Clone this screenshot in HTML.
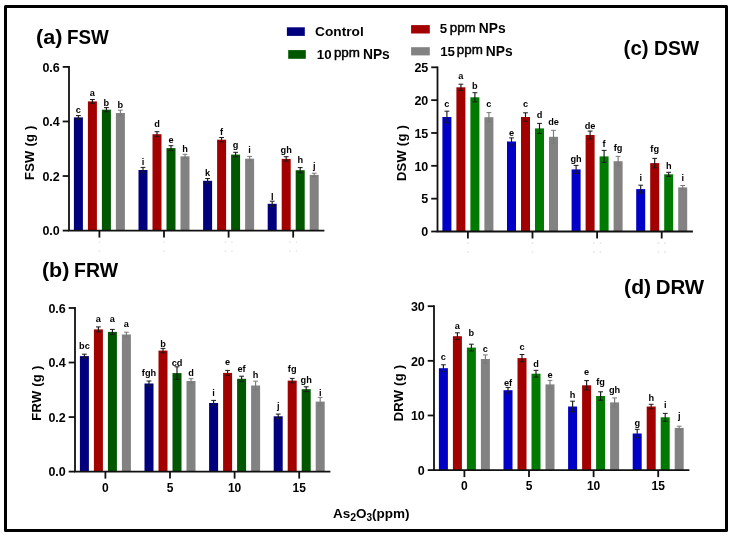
<!DOCTYPE html>
<html><head><meta charset="utf-8"><style>
html,body{margin:0;padding:0;background:#fff;width:734px;height:538px;overflow:hidden;}
svg{display:block;will-change:transform;}
text{font-family:"Liberation Sans", sans-serif;}
</style></head><body>
<svg width="734" height="538" viewBox="0 0 734 538">
<rect x="73.90" y="117.40" width="9.00" height="113.20" fill="#00007f"/>
<path d="M78.40 115.60V119.20" stroke="#1a1a1a" stroke-width="1.15" fill="none"/>
<path d="M76.00 115.60H80.80M76.00 119.20H80.80" stroke="#1a1a1a" stroke-width="1.0" fill="none"/>
<text x="78.40" y="113.40" font-size="9.2" font-weight="bold" text-anchor="middle" fill="#000">c</text>
<rect x="87.90" y="101.40" width="9.00" height="129.20" fill="#a30000"/>
<path d="M92.40 99.50V103.30" stroke="#1a1a1a" stroke-width="1.15" fill="none"/>
<path d="M90.00 99.50H94.80M90.00 103.30H94.80" stroke="#1a1a1a" stroke-width="1.0" fill="none"/>
<text x="92.40" y="95.70" font-size="9.2" font-weight="bold" text-anchor="middle" fill="#000">a</text>
<rect x="101.90" y="109.70" width="9.00" height="120.90" fill="#005700"/>
<path d="M106.40 107.60V111.80" stroke="#1a1a1a" stroke-width="1.15" fill="none"/>
<path d="M104.00 107.60H108.80M104.00 111.80H108.80" stroke="#1a1a1a" stroke-width="1.0" fill="none"/>
<text x="106.40" y="105.70" font-size="9.2" font-weight="bold" text-anchor="middle" fill="#000">b</text>
<rect x="115.90" y="113.00" width="9.00" height="117.60" fill="#828282"/>
<path d="M120.40 110.20V115.80" stroke="#7a7a7a" stroke-width="1.15" fill="none"/>
<path d="M118.00 110.20H122.80M118.00 115.80H122.80" stroke="#7a7a7a" stroke-width="1.0" fill="none"/>
<text x="120.40" y="108.00" font-size="9.2" font-weight="bold" text-anchor="middle" fill="#000">b</text>
<rect x="138.50" y="170.00" width="9.00" height="60.60" fill="#00007f"/>
<path d="M143.00 167.40V172.60" stroke="#1a1a1a" stroke-width="1.15" fill="none"/>
<path d="M140.60 167.40H145.40M140.60 172.60H145.40" stroke="#1a1a1a" stroke-width="1.0" fill="none"/>
<text x="143.00" y="164.50" font-size="9.2" font-weight="bold" text-anchor="middle" fill="#000">i</text>
<rect x="152.50" y="134.20" width="9.00" height="96.40" fill="#a30000"/>
<path d="M157.00 131.70V136.70" stroke="#1a1a1a" stroke-width="1.15" fill="none"/>
<path d="M154.60 131.70H159.40M154.60 136.70H159.40" stroke="#1a1a1a" stroke-width="1.0" fill="none"/>
<text x="157.00" y="127.40" font-size="9.2" font-weight="bold" text-anchor="middle" fill="#000">d</text>
<rect x="166.50" y="148.10" width="9.00" height="82.50" fill="#005700"/>
<path d="M171.00 145.70V150.50" stroke="#1a1a1a" stroke-width="1.15" fill="none"/>
<path d="M168.60 145.70H173.40M168.60 150.50H173.40" stroke="#1a1a1a" stroke-width="1.0" fill="none"/>
<text x="171.00" y="142.70" font-size="9.2" font-weight="bold" text-anchor="middle" fill="#000">e</text>
<rect x="180.50" y="156.30" width="9.00" height="74.30" fill="#828282"/>
<path d="M185.00 154.30V158.30" stroke="#7a7a7a" stroke-width="1.15" fill="none"/>
<path d="M182.60 154.30H187.40M182.60 158.30H187.40" stroke="#7a7a7a" stroke-width="1.0" fill="none"/>
<text x="185.00" y="152.40" font-size="9.2" font-weight="bold" text-anchor="middle" fill="#000">h</text>
<rect x="203.10" y="180.80" width="9.00" height="49.80" fill="#00007f"/>
<path d="M207.60 178.50V183.10" stroke="#1a1a1a" stroke-width="1.15" fill="none"/>
<path d="M205.20 178.50H210.00M205.20 183.10H210.00" stroke="#1a1a1a" stroke-width="1.0" fill="none"/>
<text x="207.60" y="175.60" font-size="9.2" font-weight="bold" text-anchor="middle" fill="#000">k</text>
<rect x="217.10" y="139.70" width="9.00" height="90.90" fill="#a30000"/>
<path d="M221.60 137.50V141.90" stroke="#1a1a1a" stroke-width="1.15" fill="none"/>
<path d="M219.20 137.50H224.00M219.20 141.90H224.00" stroke="#1a1a1a" stroke-width="1.0" fill="none"/>
<text x="221.60" y="135.40" font-size="9.2" font-weight="bold" text-anchor="middle" fill="#000">f</text>
<rect x="231.10" y="154.60" width="9.00" height="76.00" fill="#005700"/>
<path d="M235.60 152.30V156.90" stroke="#1a1a1a" stroke-width="1.15" fill="none"/>
<path d="M233.20 152.30H238.00M233.20 156.90H238.00" stroke="#1a1a1a" stroke-width="1.0" fill="none"/>
<text x="235.60" y="147.90" font-size="9.2" font-weight="bold" text-anchor="middle" fill="#000">g</text>
<rect x="245.10" y="158.70" width="9.00" height="71.90" fill="#828282"/>
<path d="M249.60 156.40V161.00" stroke="#7a7a7a" stroke-width="1.15" fill="none"/>
<path d="M247.20 156.40H252.00M247.20 161.00H252.00" stroke="#7a7a7a" stroke-width="1.0" fill="none"/>
<text x="249.60" y="153.30" font-size="9.2" font-weight="bold" text-anchor="middle" fill="#000">i</text>
<rect x="267.70" y="203.80" width="9.00" height="26.80" fill="#00007f"/>
<path d="M272.20 201.20V206.40" stroke="#1a1a1a" stroke-width="1.15" fill="none"/>
<path d="M269.80 201.20H274.60M269.80 206.40H274.60" stroke="#1a1a1a" stroke-width="1.0" fill="none"/>
<text x="272.20" y="199.60" font-size="9.2" font-weight="bold" text-anchor="middle" fill="#000">l</text>
<rect x="281.70" y="158.90" width="9.00" height="71.70" fill="#a30000"/>
<path d="M286.20 156.70V161.10" stroke="#1a1a1a" stroke-width="1.15" fill="none"/>
<path d="M283.80 156.70H288.60M283.80 161.10H288.60" stroke="#1a1a1a" stroke-width="1.0" fill="none"/>
<text x="286.20" y="152.80" font-size="9.2" font-weight="bold" text-anchor="middle" fill="#000">gh</text>
<rect x="295.70" y="170.20" width="9.00" height="60.40" fill="#005700"/>
<path d="M300.20 167.60V172.80" stroke="#1a1a1a" stroke-width="1.15" fill="none"/>
<path d="M297.80 167.60H302.60M297.80 172.80H302.60" stroke="#1a1a1a" stroke-width="1.0" fill="none"/>
<text x="300.20" y="163.20" font-size="9.2" font-weight="bold" text-anchor="middle" fill="#000">h</text>
<rect x="309.70" y="174.90" width="9.00" height="55.70" fill="#828282"/>
<path d="M314.20 173.20V176.60" stroke="#7a7a7a" stroke-width="1.15" fill="none"/>
<path d="M311.80 173.20H316.60M311.80 176.60H316.60" stroke="#7a7a7a" stroke-width="1.0" fill="none"/>
<text x="314.20" y="168.90" font-size="9.2" font-weight="bold" text-anchor="middle" fill="#000">j</text>
<path d="M69.00 66.90V230.60H323.50" stroke="#111" stroke-width="1.8" fill="none" stroke-linecap="square"/>
<path d="M62.70 230.60H69.00" stroke="#111" stroke-width="1.8"/>
<text x="59.80" y="235.40" font-size="12.5" font-weight="bold" text-anchor="end" fill="#000">0.0</text>
<path d="M62.70 176.03H69.00" stroke="#111" stroke-width="1.8"/>
<text x="59.80" y="180.83" font-size="12.5" font-weight="bold" text-anchor="end" fill="#000">0.2</text>
<path d="M62.70 121.47H69.00" stroke="#111" stroke-width="1.8"/>
<text x="59.80" y="126.27" font-size="12.5" font-weight="bold" text-anchor="end" fill="#000">0.4</text>
<path d="M62.70 66.90H69.00" stroke="#111" stroke-width="1.8"/>
<text x="59.80" y="71.70" font-size="12.5" font-weight="bold" text-anchor="end" fill="#000">0.6</text>
<path d="M99.40 230.60V237.60" stroke="#111" stroke-width="1.8"/>
<path d="M164.00 230.60V237.60" stroke="#111" stroke-width="1.8"/>
<path d="M228.60 230.60V237.60" stroke="#111" stroke-width="1.8"/>
<path d="M293.20 230.60V237.60" stroke="#111" stroke-width="1.8"/>
<ellipse cx="99.40" cy="242.10" rx="1.1" ry="0.7" fill="#e0e0e0"/>
<ellipse cx="99.40" cy="251.10" rx="1.1" ry="0.7" fill="#e0e0e0"/>
<ellipse cx="164.00" cy="242.10" rx="1.1" ry="0.7" fill="#e0e0e0"/>
<ellipse cx="164.00" cy="251.10" rx="1.1" ry="0.7" fill="#e0e0e0"/>
<ellipse cx="225.30" cy="242.10" rx="1.1" ry="0.7" fill="#e0e0e0"/>
<ellipse cx="231.90" cy="242.10" rx="1.1" ry="0.7" fill="#e0e0e0"/>
<ellipse cx="225.30" cy="251.10" rx="1.1" ry="0.7" fill="#e0e0e0"/>
<ellipse cx="231.90" cy="251.10" rx="1.1" ry="0.7" fill="#e0e0e0"/>
<ellipse cx="289.90" cy="242.10" rx="1.1" ry="0.7" fill="#e0e0e0"/>
<ellipse cx="296.50" cy="242.10" rx="1.1" ry="0.7" fill="#e0e0e0"/>
<ellipse cx="289.90" cy="251.10" rx="1.1" ry="0.7" fill="#e0e0e0"/>
<ellipse cx="296.50" cy="251.10" rx="1.1" ry="0.7" fill="#e0e0e0"/>
<text transform="translate(34.00 152.70) rotate(-90)" font-size="13" font-weight="bold" text-anchor="middle" fill="#000" letter-spacing="0.25">FSW (g )</text>
<rect x="79.90" y="356.10" width="9.00" height="115.50" fill="#00007f"/>
<path d="M84.40 354.20V358.00" stroke="#1a1a1a" stroke-width="1.15" fill="none"/>
<path d="M82.00 354.20H86.80M82.00 358.00H86.80" stroke="#1a1a1a" stroke-width="1.0" fill="none"/>
<text x="84.40" y="349.00" font-size="9.2" font-weight="bold" text-anchor="middle" fill="#000">bc</text>
<rect x="93.90" y="329.40" width="9.00" height="142.20" fill="#a30000"/>
<path d="M98.40 326.90V331.90" stroke="#1a1a1a" stroke-width="1.15" fill="none"/>
<path d="M96.00 326.90H100.80M96.00 331.90H100.80" stroke="#1a1a1a" stroke-width="1.0" fill="none"/>
<text x="98.40" y="322.10" font-size="9.2" font-weight="bold" text-anchor="middle" fill="#000">a</text>
<rect x="107.90" y="331.90" width="9.00" height="139.70" fill="#005700"/>
<path d="M112.40 329.40V334.40" stroke="#1a1a1a" stroke-width="1.15" fill="none"/>
<path d="M110.00 329.40H114.80M110.00 334.40H114.80" stroke="#1a1a1a" stroke-width="1.0" fill="none"/>
<text x="112.40" y="322.10" font-size="9.2" font-weight="bold" text-anchor="middle" fill="#000">a</text>
<rect x="121.90" y="334.50" width="9.00" height="137.10" fill="#828282"/>
<path d="M126.40 332.20V336.80" stroke="#7a7a7a" stroke-width="1.15" fill="none"/>
<path d="M124.00 332.20H128.80M124.00 336.80H128.80" stroke="#7a7a7a" stroke-width="1.0" fill="none"/>
<text x="126.40" y="327.00" font-size="9.2" font-weight="bold" text-anchor="middle" fill="#000">a</text>
<rect x="144.50" y="383.50" width="9.00" height="88.10" fill="#00007f"/>
<path d="M149.00 381.00V386.00" stroke="#1a1a1a" stroke-width="1.15" fill="none"/>
<path d="M146.60 381.00H151.40M146.60 386.00H151.40" stroke="#1a1a1a" stroke-width="1.0" fill="none"/>
<text x="149.00" y="376.40" font-size="9.2" font-weight="bold" text-anchor="middle" fill="#000">fgh</text>
<rect x="158.50" y="350.60" width="9.00" height="121.00" fill="#a30000"/>
<path d="M163.00 348.40V352.80" stroke="#1a1a1a" stroke-width="1.15" fill="none"/>
<path d="M160.60 348.40H165.40M160.60 352.80H165.40" stroke="#1a1a1a" stroke-width="1.0" fill="none"/>
<text x="163.00" y="347.10" font-size="9.2" font-weight="bold" text-anchor="middle" fill="#000">b</text>
<rect x="172.50" y="373.10" width="9.00" height="98.50" fill="#005700"/>
<path d="M177.00 366.80V379.40" stroke="#1a1a1a" stroke-width="1.15" fill="none"/>
<path d="M174.60 366.80H179.40M174.60 379.40H179.40" stroke="#1a1a1a" stroke-width="1.0" fill="none"/>
<text x="177.00" y="365.50" font-size="9.2" font-weight="bold" text-anchor="middle" fill="#000">cd</text>
<rect x="186.50" y="381.00" width="9.00" height="90.60" fill="#828282"/>
<path d="M191.00 378.70V383.30" stroke="#7a7a7a" stroke-width="1.15" fill="none"/>
<path d="M188.60 378.70H193.40M188.60 383.30H193.40" stroke="#7a7a7a" stroke-width="1.0" fill="none"/>
<text x="191.00" y="376.10" font-size="9.2" font-weight="bold" text-anchor="middle" fill="#000">d</text>
<rect x="209.10" y="403.00" width="9.00" height="68.60" fill="#00007f"/>
<path d="M213.60 400.40V405.60" stroke="#1a1a1a" stroke-width="1.15" fill="none"/>
<path d="M211.20 400.40H216.00M211.20 405.60H216.00" stroke="#1a1a1a" stroke-width="1.0" fill="none"/>
<text x="213.60" y="395.60" font-size="9.2" font-weight="bold" text-anchor="middle" fill="#000">i</text>
<rect x="223.10" y="372.90" width="9.00" height="98.70" fill="#a30000"/>
<path d="M227.60 370.40V375.40" stroke="#1a1a1a" stroke-width="1.15" fill="none"/>
<path d="M225.20 370.40H230.00M225.20 375.40H230.00" stroke="#1a1a1a" stroke-width="1.0" fill="none"/>
<text x="227.60" y="365.10" font-size="9.2" font-weight="bold" text-anchor="middle" fill="#000">e</text>
<rect x="237.10" y="378.80" width="9.00" height="92.80" fill="#005700"/>
<path d="M241.60 376.20V381.40" stroke="#1a1a1a" stroke-width="1.15" fill="none"/>
<path d="M239.20 376.20H244.00M239.20 381.40H244.00" stroke="#1a1a1a" stroke-width="1.0" fill="none"/>
<text x="241.60" y="371.80" font-size="9.2" font-weight="bold" text-anchor="middle" fill="#000">ef</text>
<rect x="251.10" y="385.50" width="9.00" height="86.10" fill="#828282"/>
<path d="M255.60 381.20V389.80" stroke="#7a7a7a" stroke-width="1.15" fill="none"/>
<path d="M253.20 381.20H258.00M253.20 389.80H258.00" stroke="#7a7a7a" stroke-width="1.0" fill="none"/>
<text x="255.60" y="377.70" font-size="9.2" font-weight="bold" text-anchor="middle" fill="#000">h</text>
<rect x="273.70" y="416.30" width="9.00" height="55.30" fill="#00007f"/>
<path d="M278.20 414.10V418.50" stroke="#1a1a1a" stroke-width="1.15" fill="none"/>
<path d="M275.80 414.10H280.60M275.80 418.50H280.60" stroke="#1a1a1a" stroke-width="1.0" fill="none"/>
<text x="278.20" y="409.40" font-size="9.2" font-weight="bold" text-anchor="middle" fill="#000">j</text>
<rect x="287.70" y="380.60" width="9.00" height="91.00" fill="#a30000"/>
<path d="M292.20 378.40V382.80" stroke="#1a1a1a" stroke-width="1.15" fill="none"/>
<path d="M289.80 378.40H294.60M289.80 382.80H294.60" stroke="#1a1a1a" stroke-width="1.0" fill="none"/>
<text x="292.20" y="371.60" font-size="9.2" font-weight="bold" text-anchor="middle" fill="#000">fg</text>
<rect x="301.70" y="389.20" width="9.00" height="82.40" fill="#005700"/>
<path d="M306.20 386.80V391.60" stroke="#1a1a1a" stroke-width="1.15" fill="none"/>
<path d="M303.80 386.80H308.60M303.80 391.60H308.60" stroke="#1a1a1a" stroke-width="1.0" fill="none"/>
<text x="306.20" y="383.30" font-size="9.2" font-weight="bold" text-anchor="middle" fill="#000">gh</text>
<rect x="315.70" y="401.60" width="9.00" height="70.00" fill="#828282"/>
<path d="M320.20 397.40V405.80" stroke="#7a7a7a" stroke-width="1.15" fill="none"/>
<path d="M317.80 397.40H322.60M317.80 405.80H322.60" stroke="#7a7a7a" stroke-width="1.0" fill="none"/>
<text x="320.20" y="395.90" font-size="9.2" font-weight="bold" text-anchor="middle" fill="#000">i</text>
<path d="M75.00 308.00V471.60H329.50" stroke="#111" stroke-width="1.8" fill="none" stroke-linecap="square"/>
<path d="M68.70 471.60H75.00" stroke="#111" stroke-width="1.8"/>
<text x="65.80" y="476.40" font-size="12.5" font-weight="bold" text-anchor="end" fill="#000">0.0</text>
<path d="M68.70 417.07H75.00" stroke="#111" stroke-width="1.8"/>
<text x="65.80" y="421.87" font-size="12.5" font-weight="bold" text-anchor="end" fill="#000">0.2</text>
<path d="M68.70 362.53H75.00" stroke="#111" stroke-width="1.8"/>
<text x="65.80" y="367.33" font-size="12.5" font-weight="bold" text-anchor="end" fill="#000">0.4</text>
<path d="M68.70 308.00H75.00" stroke="#111" stroke-width="1.8"/>
<text x="65.80" y="312.80" font-size="12.5" font-weight="bold" text-anchor="end" fill="#000">0.6</text>
<path d="M105.40 471.60V478.60" stroke="#111" stroke-width="1.8"/>
<text x="105.40" y="491.90" font-size="12" font-weight="bold" text-anchor="middle" fill="#000">0</text>
<path d="M170.00 471.60V478.60" stroke="#111" stroke-width="1.8"/>
<text x="170.00" y="491.90" font-size="12" font-weight="bold" text-anchor="middle" fill="#000">5</text>
<path d="M234.60 471.60V478.60" stroke="#111" stroke-width="1.8"/>
<text x="234.60" y="491.90" font-size="12" font-weight="bold" text-anchor="middle" fill="#000">10</text>
<path d="M299.20 471.60V478.60" stroke="#111" stroke-width="1.8"/>
<text x="299.20" y="491.90" font-size="12" font-weight="bold" text-anchor="middle" fill="#000">15</text>
<text transform="translate(40.80 393.10) rotate(-90)" font-size="13" font-weight="bold" text-anchor="middle" fill="#000" letter-spacing="0.25">FRW (g )</text>
<rect x="442.40" y="117.00" width="9.00" height="114.50" fill="#0000c6"/>
<path d="M446.90 111.20V122.80" stroke="#1a1a1a" stroke-width="1.15" fill="none"/>
<path d="M444.50 111.20H449.30M444.50 122.80H449.30" stroke="#1a1a1a" stroke-width="1.0" fill="none"/>
<text x="446.90" y="107.00" font-size="9.2" font-weight="bold" text-anchor="middle" fill="#000">c</text>
<rect x="456.40" y="87.30" width="9.00" height="144.20" fill="#a30000"/>
<path d="M460.90 84.20V90.40" stroke="#1a1a1a" stroke-width="1.15" fill="none"/>
<path d="M458.50 84.20H463.30M458.50 90.40H463.30" stroke="#1a1a1a" stroke-width="1.0" fill="none"/>
<text x="460.90" y="78.50" font-size="9.2" font-weight="bold" text-anchor="middle" fill="#000">a</text>
<rect x="470.40" y="97.30" width="9.00" height="134.20" fill="#007a00"/>
<path d="M474.90 92.70V101.90" stroke="#1a1a1a" stroke-width="1.15" fill="none"/>
<path d="M472.50 92.70H477.30M472.50 101.90H477.30" stroke="#1a1a1a" stroke-width="1.0" fill="none"/>
<text x="474.90" y="89.10" font-size="9.2" font-weight="bold" text-anchor="middle" fill="#000">b</text>
<rect x="484.40" y="117.20" width="9.00" height="114.30" fill="#828282"/>
<path d="M488.90 112.60V121.80" stroke="#7a7a7a" stroke-width="1.15" fill="none"/>
<path d="M486.50 112.60H491.30M486.50 121.80H491.30" stroke="#7a7a7a" stroke-width="1.0" fill="none"/>
<text x="488.90" y="107.40" font-size="9.2" font-weight="bold" text-anchor="middle" fill="#000">c</text>
<rect x="507.00" y="141.50" width="9.00" height="90.00" fill="#0000c6"/>
<path d="M511.50 137.90V145.10" stroke="#1a1a1a" stroke-width="1.15" fill="none"/>
<path d="M509.10 137.90H513.90M509.10 145.10H513.90" stroke="#1a1a1a" stroke-width="1.0" fill="none"/>
<text x="511.50" y="136.10" font-size="9.2" font-weight="bold" text-anchor="middle" fill="#000">e</text>
<rect x="521.00" y="117.00" width="9.00" height="114.50" fill="#a30000"/>
<path d="M525.50 112.80V121.20" stroke="#1a1a1a" stroke-width="1.15" fill="none"/>
<path d="M523.10 112.80H527.90M523.10 121.20H527.90" stroke="#1a1a1a" stroke-width="1.0" fill="none"/>
<text x="525.50" y="107.30" font-size="9.2" font-weight="bold" text-anchor="middle" fill="#000">c</text>
<rect x="535.00" y="128.40" width="9.00" height="103.10" fill="#007a00"/>
<path d="M539.50 123.40V133.40" stroke="#1a1a1a" stroke-width="1.15" fill="none"/>
<path d="M537.10 123.40H541.90M537.10 133.40H541.90" stroke="#1a1a1a" stroke-width="1.0" fill="none"/>
<text x="539.50" y="118.00" font-size="9.2" font-weight="bold" text-anchor="middle" fill="#000">d</text>
<rect x="549.00" y="136.80" width="9.00" height="94.70" fill="#828282"/>
<path d="M553.50 130.30V143.30" stroke="#7a7a7a" stroke-width="1.15" fill="none"/>
<path d="M551.10 130.30H555.90M551.10 143.30H555.90" stroke="#7a7a7a" stroke-width="1.0" fill="none"/>
<text x="553.50" y="125.20" font-size="9.2" font-weight="bold" text-anchor="middle" fill="#000">de</text>
<rect x="571.60" y="169.40" width="9.00" height="62.10" fill="#0000c6"/>
<path d="M576.10 165.40V173.40" stroke="#1a1a1a" stroke-width="1.15" fill="none"/>
<path d="M573.70 165.40H578.50M573.70 173.40H578.50" stroke="#1a1a1a" stroke-width="1.0" fill="none"/>
<text x="576.10" y="162.20" font-size="9.2" font-weight="bold" text-anchor="middle" fill="#000">gh</text>
<rect x="585.60" y="135.00" width="9.00" height="96.50" fill="#a30000"/>
<path d="M590.10 131.10V138.90" stroke="#1a1a1a" stroke-width="1.15" fill="none"/>
<path d="M587.70 131.10H592.50M587.70 138.90H592.50" stroke="#1a1a1a" stroke-width="1.0" fill="none"/>
<text x="590.10" y="128.70" font-size="9.2" font-weight="bold" text-anchor="middle" fill="#000">de</text>
<rect x="599.60" y="156.40" width="9.00" height="75.10" fill="#007a00"/>
<path d="M604.10 150.40V162.40" stroke="#1a1a1a" stroke-width="1.15" fill="none"/>
<path d="M601.70 150.40H606.50M601.70 162.40H606.50" stroke="#1a1a1a" stroke-width="1.0" fill="none"/>
<text x="604.10" y="147.10" font-size="9.2" font-weight="bold" text-anchor="middle" fill="#000">f</text>
<rect x="613.60" y="161.20" width="9.00" height="70.30" fill="#828282"/>
<path d="M618.10 156.40V166.00" stroke="#7a7a7a" stroke-width="1.15" fill="none"/>
<path d="M615.70 156.40H620.50M615.70 166.00H620.50" stroke="#7a7a7a" stroke-width="1.0" fill="none"/>
<text x="618.10" y="151.00" font-size="9.2" font-weight="bold" text-anchor="middle" fill="#000">fg</text>
<rect x="636.20" y="189.10" width="9.00" height="42.40" fill="#0000c6"/>
<path d="M640.70 185.20V193.00" stroke="#1a1a1a" stroke-width="1.15" fill="none"/>
<path d="M638.30 185.20H643.10M638.30 193.00H643.10" stroke="#1a1a1a" stroke-width="1.0" fill="none"/>
<text x="640.70" y="180.50" font-size="9.2" font-weight="bold" text-anchor="middle" fill="#000">i</text>
<rect x="650.20" y="163.10" width="9.00" height="68.40" fill="#a30000"/>
<path d="M654.70 158.40V167.80" stroke="#1a1a1a" stroke-width="1.15" fill="none"/>
<path d="M652.30 158.40H657.10M652.30 167.80H657.10" stroke="#1a1a1a" stroke-width="1.0" fill="none"/>
<text x="654.70" y="151.60" font-size="9.2" font-weight="bold" text-anchor="middle" fill="#000">fg</text>
<rect x="664.20" y="174.30" width="9.00" height="57.20" fill="#007a00"/>
<path d="M668.70 172.30V176.30" stroke="#1a1a1a" stroke-width="1.15" fill="none"/>
<path d="M666.30 172.30H671.10M666.30 176.30H671.10" stroke="#1a1a1a" stroke-width="1.0" fill="none"/>
<text x="668.70" y="169.40" font-size="9.2" font-weight="bold" text-anchor="middle" fill="#000">h</text>
<rect x="678.20" y="187.40" width="9.00" height="44.10" fill="#828282"/>
<path d="M682.70 185.50V189.30" stroke="#7a7a7a" stroke-width="1.15" fill="none"/>
<path d="M680.30 185.50H685.10M680.30 189.30H685.10" stroke="#7a7a7a" stroke-width="1.0" fill="none"/>
<text x="682.70" y="180.50" font-size="9.2" font-weight="bold" text-anchor="middle" fill="#000">i</text>
<path d="M437.50 67.30V231.50H692.00" stroke="#111" stroke-width="1.8" fill="none" stroke-linecap="square"/>
<path d="M431.20 231.50H437.50" stroke="#111" stroke-width="1.8"/>
<text x="428.30" y="236.30" font-size="12.5" font-weight="bold" text-anchor="end" fill="#000">0</text>
<path d="M431.20 198.66H437.50" stroke="#111" stroke-width="1.8"/>
<text x="428.30" y="203.46" font-size="12.5" font-weight="bold" text-anchor="end" fill="#000">5</text>
<path d="M431.20 165.82H437.50" stroke="#111" stroke-width="1.8"/>
<text x="428.30" y="170.62" font-size="12.5" font-weight="bold" text-anchor="end" fill="#000">10</text>
<path d="M431.20 132.98H437.50" stroke="#111" stroke-width="1.8"/>
<text x="428.30" y="137.78" font-size="12.5" font-weight="bold" text-anchor="end" fill="#000">15</text>
<path d="M431.20 100.14H437.50" stroke="#111" stroke-width="1.8"/>
<text x="428.30" y="104.94" font-size="12.5" font-weight="bold" text-anchor="end" fill="#000">20</text>
<path d="M431.20 67.30H437.50" stroke="#111" stroke-width="1.8"/>
<text x="428.30" y="72.10" font-size="12.5" font-weight="bold" text-anchor="end" fill="#000">25</text>
<path d="M467.90 231.50V238.50" stroke="#111" stroke-width="1.8"/>
<path d="M532.50 231.50V238.50" stroke="#111" stroke-width="1.8"/>
<path d="M597.10 231.50V238.50" stroke="#111" stroke-width="1.8"/>
<path d="M661.70 231.50V238.50" stroke="#111" stroke-width="1.8"/>
<ellipse cx="467.90" cy="243.00" rx="1.1" ry="0.7" fill="#e0e0e0"/>
<ellipse cx="467.90" cy="252.00" rx="1.1" ry="0.7" fill="#e0e0e0"/>
<ellipse cx="532.50" cy="243.00" rx="1.1" ry="0.7" fill="#e0e0e0"/>
<ellipse cx="532.50" cy="252.00" rx="1.1" ry="0.7" fill="#e0e0e0"/>
<ellipse cx="593.80" cy="243.00" rx="1.1" ry="0.7" fill="#e0e0e0"/>
<ellipse cx="600.40" cy="243.00" rx="1.1" ry="0.7" fill="#e0e0e0"/>
<ellipse cx="593.80" cy="252.00" rx="1.1" ry="0.7" fill="#e0e0e0"/>
<ellipse cx="600.40" cy="252.00" rx="1.1" ry="0.7" fill="#e0e0e0"/>
<ellipse cx="658.40" cy="243.00" rx="1.1" ry="0.7" fill="#e0e0e0"/>
<ellipse cx="665.00" cy="243.00" rx="1.1" ry="0.7" fill="#e0e0e0"/>
<ellipse cx="658.40" cy="252.00" rx="1.1" ry="0.7" fill="#e0e0e0"/>
<ellipse cx="665.00" cy="252.00" rx="1.1" ry="0.7" fill="#e0e0e0"/>
<text transform="translate(405.80 153.00) rotate(-90)" font-size="13" font-weight="bold" text-anchor="middle" fill="#000" letter-spacing="0.25">DSW (g )</text>
<rect x="438.90" y="368.20" width="9.00" height="101.90" fill="#0000c6"/>
<path d="M443.40 364.80V371.60" stroke="#1a1a1a" stroke-width="1.15" fill="none"/>
<path d="M441.00 364.80H445.80M441.00 371.60H445.80" stroke="#1a1a1a" stroke-width="1.0" fill="none"/>
<text x="443.40" y="360.00" font-size="9.2" font-weight="bold" text-anchor="middle" fill="#000">c</text>
<rect x="452.90" y="336.20" width="9.00" height="133.90" fill="#a30000"/>
<path d="M457.40 332.80V339.60" stroke="#1a1a1a" stroke-width="1.15" fill="none"/>
<path d="M455.00 332.80H459.80M455.00 339.60H459.80" stroke="#1a1a1a" stroke-width="1.0" fill="none"/>
<text x="457.40" y="329.00" font-size="9.2" font-weight="bold" text-anchor="middle" fill="#000">a</text>
<rect x="466.90" y="347.60" width="9.00" height="122.50" fill="#007a00"/>
<path d="M471.40 344.20V351.00" stroke="#1a1a1a" stroke-width="1.15" fill="none"/>
<path d="M469.00 344.20H473.80M469.00 351.00H473.80" stroke="#1a1a1a" stroke-width="1.0" fill="none"/>
<text x="471.40" y="336.00" font-size="9.2" font-weight="bold" text-anchor="middle" fill="#000">b</text>
<rect x="480.90" y="359.00" width="9.00" height="111.10" fill="#828282"/>
<path d="M485.40 354.90V363.10" stroke="#7a7a7a" stroke-width="1.15" fill="none"/>
<path d="M483.00 354.90H487.80M483.00 363.10H487.80" stroke="#7a7a7a" stroke-width="1.0" fill="none"/>
<text x="485.40" y="352.40" font-size="9.2" font-weight="bold" text-anchor="middle" fill="#000">c</text>
<rect x="503.50" y="390.20" width="9.00" height="79.90" fill="#0000c6"/>
<path d="M508.00 387.40V393.00" stroke="#1a1a1a" stroke-width="1.15" fill="none"/>
<path d="M505.60 387.40H510.40M505.60 393.00H510.40" stroke="#1a1a1a" stroke-width="1.0" fill="none"/>
<text x="508.00" y="385.60" font-size="9.2" font-weight="bold" text-anchor="middle" fill="#000">ef</text>
<rect x="517.50" y="358.10" width="9.00" height="112.00" fill="#a30000"/>
<path d="M522.00 354.50V361.70" stroke="#1a1a1a" stroke-width="1.15" fill="none"/>
<path d="M519.60 354.50H524.40M519.60 361.70H524.40" stroke="#1a1a1a" stroke-width="1.0" fill="none"/>
<text x="522.00" y="350.40" font-size="9.2" font-weight="bold" text-anchor="middle" fill="#000">c</text>
<rect x="531.50" y="373.70" width="9.00" height="96.40" fill="#007a00"/>
<path d="M536.00 370.30V377.10" stroke="#1a1a1a" stroke-width="1.15" fill="none"/>
<path d="M533.60 370.30H538.40M533.60 377.10H538.40" stroke="#1a1a1a" stroke-width="1.0" fill="none"/>
<text x="536.00" y="367.40" font-size="9.2" font-weight="bold" text-anchor="middle" fill="#000">d</text>
<rect x="545.50" y="384.40" width="9.00" height="85.70" fill="#828282"/>
<path d="M550.00 380.40V388.40" stroke="#7a7a7a" stroke-width="1.15" fill="none"/>
<path d="M547.60 380.40H552.40M547.60 388.40H552.40" stroke="#7a7a7a" stroke-width="1.0" fill="none"/>
<text x="550.00" y="377.80" font-size="9.2" font-weight="bold" text-anchor="middle" fill="#000">e</text>
<rect x="568.10" y="406.50" width="9.00" height="63.60" fill="#0000c6"/>
<path d="M572.60 401.20V411.80" stroke="#1a1a1a" stroke-width="1.15" fill="none"/>
<path d="M570.20 401.20H575.00M570.20 411.80H575.00" stroke="#1a1a1a" stroke-width="1.0" fill="none"/>
<text x="572.60" y="397.70" font-size="9.2" font-weight="bold" text-anchor="middle" fill="#000">h</text>
<rect x="582.10" y="385.30" width="9.00" height="84.80" fill="#a30000"/>
<path d="M586.60 380.60V390.00" stroke="#1a1a1a" stroke-width="1.15" fill="none"/>
<path d="M584.20 380.60H589.00M584.20 390.00H589.00" stroke="#1a1a1a" stroke-width="1.0" fill="none"/>
<text x="586.60" y="375.40" font-size="9.2" font-weight="bold" text-anchor="middle" fill="#000">e</text>
<rect x="596.10" y="396.00" width="9.00" height="74.10" fill="#007a00"/>
<path d="M600.60 391.80V400.20" stroke="#1a1a1a" stroke-width="1.15" fill="none"/>
<path d="M598.20 391.80H603.00M598.20 400.20H603.00" stroke="#1a1a1a" stroke-width="1.0" fill="none"/>
<text x="600.60" y="384.90" font-size="9.2" font-weight="bold" text-anchor="middle" fill="#000">fg</text>
<rect x="610.10" y="402.40" width="9.00" height="67.70" fill="#828282"/>
<path d="M614.60 397.90V406.90" stroke="#7a7a7a" stroke-width="1.15" fill="none"/>
<path d="M612.20 397.90H617.00M612.20 406.90H617.00" stroke="#7a7a7a" stroke-width="1.0" fill="none"/>
<text x="614.60" y="393.30" font-size="9.2" font-weight="bold" text-anchor="middle" fill="#000">gh</text>
<rect x="632.70" y="433.50" width="9.00" height="36.60" fill="#0000c6"/>
<path d="M637.20 429.30V437.70" stroke="#1a1a1a" stroke-width="1.15" fill="none"/>
<path d="M634.80 429.30H639.60M634.80 437.70H639.60" stroke="#1a1a1a" stroke-width="1.0" fill="none"/>
<text x="637.20" y="426.30" font-size="9.2" font-weight="bold" text-anchor="middle" fill="#000">g</text>
<rect x="646.70" y="406.50" width="9.00" height="63.60" fill="#a30000"/>
<path d="M651.20 404.30V408.70" stroke="#1a1a1a" stroke-width="1.15" fill="none"/>
<path d="M648.80 404.30H653.60M648.80 408.70H653.60" stroke="#1a1a1a" stroke-width="1.0" fill="none"/>
<text x="651.20" y="401.00" font-size="9.2" font-weight="bold" text-anchor="middle" fill="#000">h</text>
<rect x="660.70" y="417.30" width="9.00" height="52.80" fill="#007a00"/>
<path d="M665.20 413.40V421.20" stroke="#1a1a1a" stroke-width="1.15" fill="none"/>
<path d="M662.80 413.40H667.60M662.80 421.20H667.60" stroke="#1a1a1a" stroke-width="1.0" fill="none"/>
<text x="665.20" y="408.20" font-size="9.2" font-weight="bold" text-anchor="middle" fill="#000">i</text>
<rect x="674.70" y="427.90" width="9.00" height="42.20" fill="#828282"/>
<path d="M679.20 426.20V429.60" stroke="#7a7a7a" stroke-width="1.15" fill="none"/>
<path d="M676.80 426.20H681.60M676.80 429.60H681.60" stroke="#7a7a7a" stroke-width="1.0" fill="none"/>
<text x="679.20" y="419.40" font-size="9.2" font-weight="bold" text-anchor="middle" fill="#000">j</text>
<path d="M434.00 306.20V470.10H688.50" stroke="#111" stroke-width="1.8" fill="none" stroke-linecap="square"/>
<path d="M427.70 470.10H434.00" stroke="#111" stroke-width="1.8"/>
<text x="424.80" y="474.90" font-size="12.5" font-weight="bold" text-anchor="end" fill="#000">0</text>
<path d="M427.70 415.47H434.00" stroke="#111" stroke-width="1.8"/>
<text x="424.80" y="420.27" font-size="12.5" font-weight="bold" text-anchor="end" fill="#000">10</text>
<path d="M427.70 360.83H434.00" stroke="#111" stroke-width="1.8"/>
<text x="424.80" y="365.63" font-size="12.5" font-weight="bold" text-anchor="end" fill="#000">20</text>
<path d="M427.70 306.20H434.00" stroke="#111" stroke-width="1.8"/>
<text x="424.80" y="311.00" font-size="12.5" font-weight="bold" text-anchor="end" fill="#000">30</text>
<path d="M464.40 470.10V477.10" stroke="#111" stroke-width="1.8"/>
<text x="464.40" y="490.40" font-size="12" font-weight="bold" text-anchor="middle" fill="#000">0</text>
<path d="M529.00 470.10V477.10" stroke="#111" stroke-width="1.8"/>
<text x="529.00" y="490.40" font-size="12" font-weight="bold" text-anchor="middle" fill="#000">5</text>
<path d="M593.60 470.10V477.10" stroke="#111" stroke-width="1.8"/>
<text x="593.60" y="490.40" font-size="12" font-weight="bold" text-anchor="middle" fill="#000">10</text>
<path d="M658.20 470.10V477.10" stroke="#111" stroke-width="1.8"/>
<text x="658.20" y="490.40" font-size="12" font-weight="bold" text-anchor="middle" fill="#000">15</text>
<text transform="translate(403.30 393.00) rotate(-90)" font-size="13" font-weight="bold" text-anchor="middle" fill="#000" letter-spacing="0.25">DRW (g )</text>
<text x="36.10" y="43.7" font-size="20.3" font-weight="bold" fill="#000" textLength="26.40" lengthAdjust="spacingAndGlyphs">(a)</text>
<text x="66.90" y="43.7" font-size="20.3" font-weight="bold" fill="#000" textLength="41.80" lengthAdjust="spacingAndGlyphs">FSW</text>
<text x="41.90" y="276.6" font-size="20.3" font-weight="bold" fill="#000" textLength="27.40" lengthAdjust="spacingAndGlyphs">(b)</text>
<text x="74.10" y="276.6" font-size="20.3" font-weight="bold" fill="#000" textLength="43.90" lengthAdjust="spacingAndGlyphs">FRW</text>
<text x="623.60" y="54.8" font-size="20.3" font-weight="bold" fill="#000" textLength="25.00" lengthAdjust="spacingAndGlyphs">(c)</text>
<text x="653.90" y="54.8" font-size="20.3" font-weight="bold" fill="#000" textLength="45.20" lengthAdjust="spacingAndGlyphs">DSW</text>
<text x="624.10" y="293.8" font-size="20.3" font-weight="bold" fill="#000" textLength="27.00" lengthAdjust="spacingAndGlyphs">(d)</text>
<text x="655.70" y="293.8" font-size="20.3" font-weight="bold" fill="#000" textLength="48.50" lengthAdjust="spacingAndGlyphs">DRW</text>
<rect x="286.9" y="27.3" width="17.9" height="8.6" fill="#00007f"/>
<rect x="288.2" y="50.1" width="17.6" height="8.7" fill="#005700"/>
<rect x="411.1" y="25.1" width="18.7" height="8.4" fill="#a30000"/>
<rect x="411.1" y="47.2" width="18.7" height="8.2" fill="#828282"/>
<text x="315.1" y="35.9" font-size="13.7" font-weight="bold" fill="#000">Control</text>
<text x="316.8" y="58.5" font-size="13.3" fill="#000"><tspan font-weight="bold">10</tspan><tspan dx="2.3" dy="-1.5" font-weight="normal" font-size="13.4" stroke="#000" stroke-width="0.45">ppm</tspan><tspan dx="3" dy="1.5" font-weight="bold" font-size="13.8">NPs</tspan></text>
<text x="439.7" y="33.3" font-size="13.3" fill="#000"><tspan font-weight="bold">5</tspan><tspan dx="2.6" dy="-1.5" font-weight="normal" font-size="13.4" stroke="#000" stroke-width="0.45">ppm</tspan><tspan dx="3" dy="1.5" font-weight="bold" font-size="13.8">NPs</tspan></text>
<text x="440.2" y="55.7" font-size="13.3" fill="#000"><tspan font-weight="bold">15</tspan><tspan dx="1.8" dy="-1.5" font-weight="normal" font-size="13.4" stroke="#000" stroke-width="0.45">ppm</tspan><tspan dx="3" dy="1.5" font-weight="bold" font-size="13.8">NPs</tspan></text>
<text x="332.9" y="517.9" font-size="13.5" font-weight="bold" fill="#000">As<tspan font-size="10.5" dy="3.3">2</tspan><tspan dy="-3.3">O</tspan><tspan font-size="10" dy="3.3">3</tspan><tspan dy="-3.3">(ppm)</tspan></text>
<rect x="5.5" y="6.5" width="721" height="524" fill="none" stroke="#000" stroke-width="3" stroke-linejoin="round"/>
</svg></body></html>
